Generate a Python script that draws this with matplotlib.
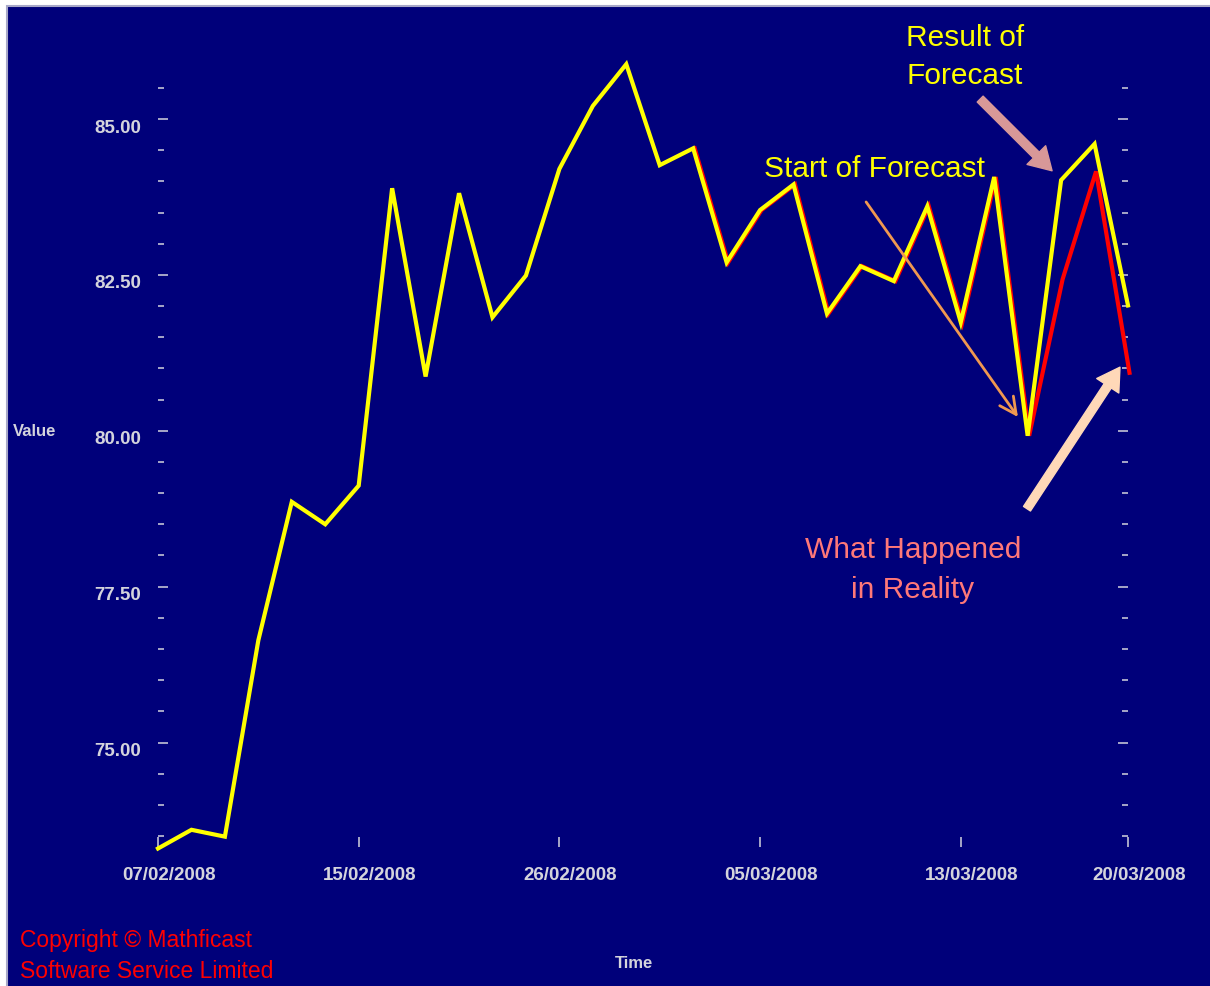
import matplotlib
matplotlib.use("Agg")
import matplotlib.pyplot as plt
from matplotlib.patches import Rectangle
from matplotlib.ticker import MultipleLocator, FixedLocator
from matplotlib.transforms import ScaledTranslation

plt.rcParams['font.family'] = ['Liberation Sans', 'DejaVu Sans']

# Forecast series (yellow), one value per trading day
forecast = [73.30, 73.60, 73.49, 76.64, 78.86, 78.50, 79.12, 83.89, 80.87, 83.81,
            81.82, 82.49, 84.20, 85.21, 85.88, 84.26, 84.53, 82.70, 83.54, 83.95,
            81.88, 82.64, 82.40, 83.60, 81.74, 84.07, 79.92, 84.02, 84.60, 82.01]
# What really happened (red), from day 16 on
reality_start = 16
reality = [84.53, 82.70, 83.54, 83.95, 81.88, 82.64, 82.40, 83.60, 81.74, 84.07,
           79.92, 82.43, 84.16, 80.93]
date_ticks = [0, 6, 12, 18, 24, 29]
date_labels = ['07/02/2008', '15/02/2008', '26/02/2008', '05/03/2008', '13/03/2008', '20/03/2008']
value_ticks = [75.0, 77.5, 80.0, 82.5, 85.0]

navy = '#00007a'
grey = '#d4d4dc'

W, H = 1210, 987
fig = plt.figure(figsize=(W / 100, H / 100), dpi=100)
fig.patch.set_facecolor('white')
bg = Rectangle((7 / W, -0.02), 1.02, 1.02 - 7 / H, transform=fig.transFigure,
               facecolor=navy, edgecolor='#a8a8c8', linewidth=1.5, zorder=0)
fig.add_artist(bg)

# 85 sits at 120px, 62.35px per unit
ax = fig.add_axes([158 / W, 1 - 848 / H, 970 / W, (848 - 60.8) / H], zorder=1)
ax.set_facecolor('none')
for s in ax.spines.values():
    s.set_visible(False)

x_all = list(range(len(forecast)))
x_real = list(range(reality_start, reality_start + len(reality)))
shift = ScaledTranslation(1.5 / 100, 0, fig.dpi_scale_trans)
ax.plot(x_real, reality, color='#ff0000', lw=3, solid_joinstyle='miter',
        transform=ax.transData + shift, clip_on=False)
ax.plot(x_all, forecast, color='#ffff00', lw=3, solid_joinstyle='miter', clip_on=False)

ax.set_xlim(0, 29)
ax.set_ylim(73.324, 85.95)

ax.xaxis.set_major_locator(FixedLocator(date_ticks))
ax.set_xticklabels(date_labels)
ax.yaxis.set_major_locator(FixedLocator(value_ticks))
ax.yaxis.set_minor_locator(MultipleLocator(0.5))
ax.set_yticklabels([f'{v:.2f}' for v in value_ticks])

ax.tick_params(which='both', direction='in', color=grey, labelcolor=grey, width=1.1,
               left=True, right=True, bottom=True, top=False)
ax.tick_params(which='major', length=7.5, labelsize=13.5)
ax.tick_params(which='minor', length=4.5)
ax.tick_params(axis='x', pad=14)
ax.tick_params(axis='y', pad=12)
for lab in ax.get_xticklabels():
    lab.set_fontweight('bold')
    lab.set_transform(lab.get_transform() + ScaledTranslation(11 / 100, 0, fig.dpi_scale_trans))
for lab in ax.get_yticklabels():
    lab.set_fontweight('bold')
    lab.set_transform(lab.get_transform() + ScaledTranslation(0, -6 / 100, fig.dpi_scale_trans))

# axis titles
fig.text(35 / W, 1 - 432 / H, 'Value', color=grey, fontsize=12, fontweight='bold',
         ha='center', va='center')
fig.text(634 / W, 1 - 964 / H, 'Time', color=grey, fontsize=12, fontweight='bold',
         ha='center', va='center')

# annotations
fig.text(965 / W, 1 - 57 / H, 'Result of\nForecast', color='#ffff00', fontsize=21.5,
         ha='center', va='center', linespacing=1.5)
fig.text(875 / W, 1 - 169 / H, 'Start of Forecast', color='#ffff00', fontsize=21.5,
         ha='center', va='center')
fig.text(913 / W, 1 - 570 / H, 'What Happened\nin Reality', color='#ff7878', fontsize=21.5,
         ha='center', va='center', linespacing=1.5)
fig.text(20 / W, 1 - 956 / H, 'Copyright © Mathficast\nSoftware Service Limited',
         color='#ff0000', fontsize=16.5, ha='left', va='center', linespacing=1.4)

ax.annotate('', xy=(26.73, 84.17), xytext=(24.58, 85.32), annotation_clip=False,
            arrowprops=dict(arrowstyle='simple,head_length=1.6,head_width=1.9,tail_width=0.6',
                            mutation_scale=10, color='#d89898', shrinkA=0, shrinkB=0))
ax.annotate('', xy=(25.71, 80.22), xytext=(21.17, 83.67), annotation_clip=False,
            arrowprops=dict(arrowstyle='->,head_length=0.6,head_width=0.3',
                            mutation_scale=20, color='#f09850', lw=2, shrinkA=0, shrinkB=0))
ax.annotate('', xy=(28.76, 81.02), xytext=(25.98, 78.75), annotation_clip=False,
            arrowprops=dict(arrowstyle='simple,head_length=1.6,head_width=1.9,tail_width=0.6',
                            mutation_scale=10, color='#ffd8b8', shrinkA=0, shrinkB=0))

fig.savefig('out.png', dpi=100, facecolor=fig.get_facecolor())
